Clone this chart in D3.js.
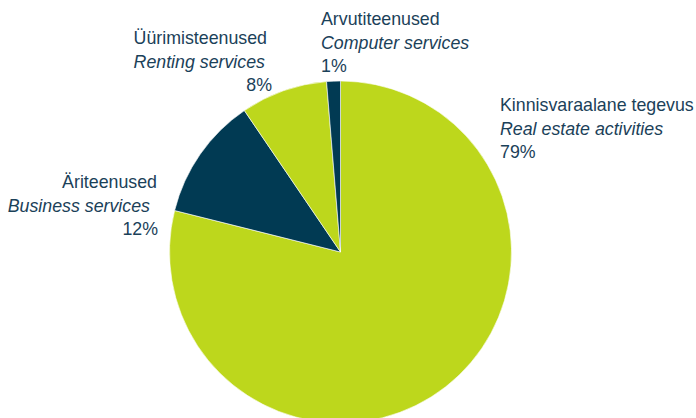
<!DOCTYPE html>
<html>
<head>
<meta charset="utf-8">
<script src="https://cdn.jsdelivr.net/npm/d3@7"></script>
<style>
    html, body {
        margin: 0;
        padding: 0;
        background: #fff;
        overflow: hidden;
    }
    text {
        font-family: "Liberation Sans", Arial, sans-serif;
        font-size: 17.8px;
        fill: #1b4159;
    }
</style>
</head>
<body>
<script>
// 数据
const categoriesEt = ['Kinnisvaraalane tegevus', 'Äriteenused', 'Üürimisteenused', 'Arvutiteenused'];
const categoriesEn = ['Real estate activities', 'Business services', 'Renting services', 'Computer services'];
const shares = [78.9, 11.6, 8.2, 1.3];
const shareLabels = ['79%', '12%', '8%', '1%'];

// 布局
const width = 696;
const height = 418;
const cx = 340.5;
const cy = 252;
const radius = 171;
const lineGap = 23.5;
const colors = ['#bdd71c', '#013a53', '#bdd71c', '#013a53'];
// 标签位置 (enDx / pctDx: 第二、三行的微调)
const labelLayout = [
    {x: 500, y: 111, anchor: 'start', enDx: 0, pctDx: 0},
    {x: 157, y: 188, anchor: 'end', enDx: -7, pctDx: 1},
    {x: 267, y: 44, anchor: 'end', enDx: -2, pctDx: 5},
    {x: 321, y: 25, anchor: 'start', enDx: 0, pctDx: 0}
];

const svg = d3.select('body')
    .append('svg')
    .attr('width', width)
    .attr('height', height);

const pie = d3.pie()
    .sort(null)
    .value(d => d);

const arc = d3.arc()
    .innerRadius(0)
    .outerRadius(radius);

const arcs = pie(shares);

svg.append('g')
    .attr('transform', 'translate(' + cx + ', ' + cy + ')')
    .selectAll('path')
    .data(arcs)
    .enter()
    .append('path')
    .attr('d', arc)
    .attr('fill', (d, i) => colors[i])
    .attr('stroke', '#ffffff')
    .attr('stroke-width', 0.6);

const labels = svg.selectAll('g.label')
    .data(arcs)
    .enter()
    .append('g')
    .attr('class', 'label')
    .attr('transform', (d, i) => 'translate(' + labelLayout[i].x + ', ' + labelLayout[i].y + ')');

labels.append('text')
    .attr('text-anchor', (d, i) => labelLayout[i].anchor)
    .text((d, i) => categoriesEt[i]);

labels.append('text')
    .attr('x', (d, i) => labelLayout[i].enDx)
    .attr('y', lineGap)
    .attr('text-anchor', (d, i) => labelLayout[i].anchor)
    .attr('font-style', 'italic')
    .text((d, i) => categoriesEn[i]);

labels.append('text')
    .attr('x', (d, i) => labelLayout[i].pctDx)
    .attr('y', 2 * lineGap)
    .attr('text-anchor', (d, i) => labelLayout[i].anchor)
    .text((d, i) => shareLabels[i]);
</script>
</body>
</html>
